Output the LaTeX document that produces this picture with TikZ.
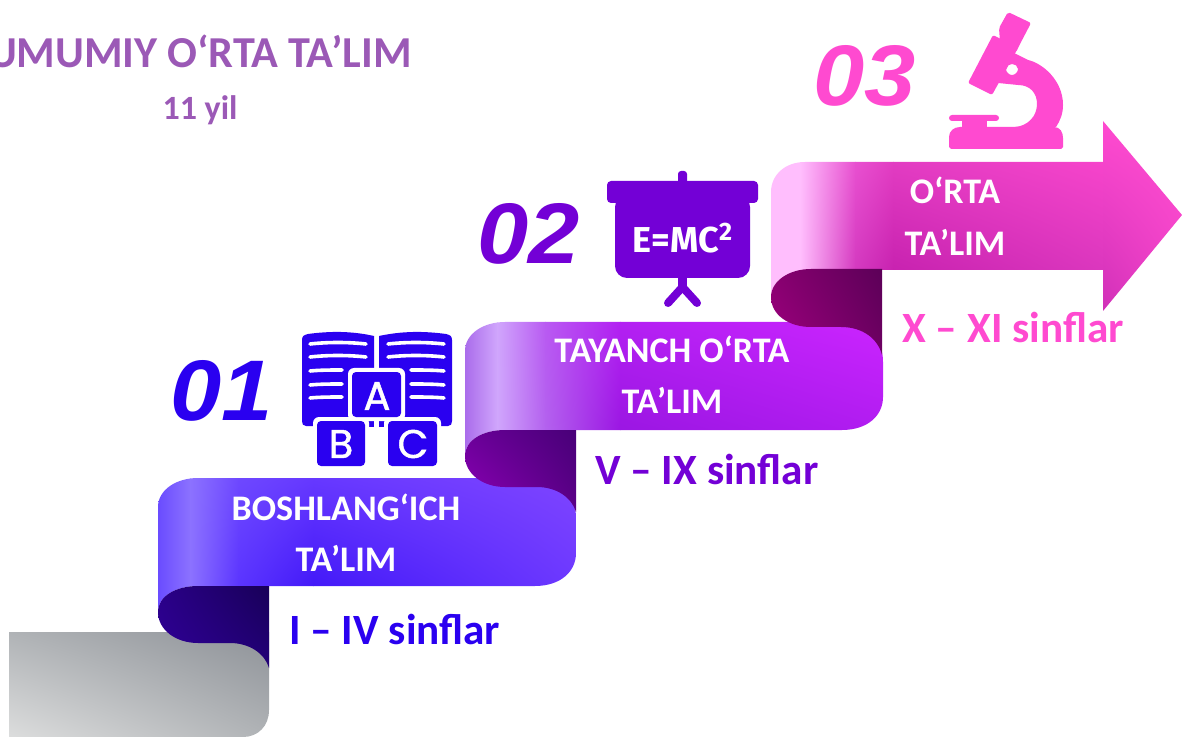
\documentclass[tikz,border=0pt]{standalone}
\usepackage{fontspec}
\setmainfont{Carlito}
\newfontfamily\numfont{Liberation Sans}
\newfontfamily\iconfont{Fira Sans}
\newfontfamily\blockfont[FakeBold=1.2]{Poppins}
\usetikzlibrary{shadings}
\definecolor{titlecol}{HTML}{9B59B6}
\definecolor{bluecol}{HTML}{2A00F0}
\definecolor{violetcol}{HTML}{7300D6}
\definecolor{pinkcol}{HTML}{FF4AD0}
% first ribbon
\definecolor{oneA}{HTML}{6A4CFF}
\definecolor{oneB}{HTML}{8C72FF}
\definecolor{oneC}{HTML}{6E48FF}
\definecolor{oneD}{HTML}{5A34FF}
\definecolor{oneE}{HTML}{6638FF}
\definecolor{oneF}{HTML}{4218F8}
\definecolor{oneG}{HTML}{7E44FF}
\definecolor{oneH}{HTML}{6C38FF}
% second ribbon
\definecolor{twoA}{HTML}{AA6CEB}
\definecolor{twoB}{HTML}{D0A6FC}
\definecolor{twoC}{HTML}{B95AF2}
\definecolor{twoD}{HTML}{B362EE}
\definecolor{twoE}{HTML}{B320F2}
\definecolor{twoF}{HTML}{9A16E2}
\definecolor{twoG}{HTML}{CB24FF}
\definecolor{twoH}{HTML}{B01CF0}
% third ribbon
\definecolor{treA}{HTML}{FFBEFD}
\definecolor{treB}{HTML}{E850D0}
\definecolor{treC}{HTML}{D43AC0}
\definecolor{treD}{HTML}{E23CC2}
\definecolor{treE}{HTML}{C822B0}
\definecolor{treF}{HTML}{F644CB}
\definecolor{treG}{HTML}{DB37BE}
\definecolor{treH}{HTML}{FF4FD0}
\definecolor{treI}{HTML}{D030B8}
\definecolor{treJ}{HTML}{F040C8}
\newcommand{\bandpath}{(158,612) -- (158,507) .. controls (158,490) and (176,478) .. (198,478) -- (536,478) .. controls (560,478) and (576,494) .. (576,518) -- (576,553) .. controls (576,572) and (560,586) .. (535,586) -- (198,586) .. controls (176,586) and (158,596) .. (158,612) -- cycle}
\newcommand{\curlpath}{(158,612) .. controls (158,596) and (176,586) .. (198,586) -- (269,586) -- (269,668) .. controls (265,654) and (250,643) .. (230,643) -- (198,643) .. controls (176,643) and (158,630) .. (158,612) -- cycle}
\begin{document}
\begin{tikzpicture}[
  x=0.5pt, y=-0.5pt,
  title/.style={font=\fontsize{22.1}{22}\selectfont\bfseries, text=titlecol, inner sep=0pt},
  band/.style={font=\fontsize{18}{18}\selectfont\bfseries, text=white, inner sep=0pt},
  grade/.style={font=\fontsize{21.6}{22}\selectfont\bfseries, inner sep=0pt, anchor=west},
  number/.style={font=\numfont\fontsize{43}{43}\selectfont\bfseries\itshape, inner sep=0pt},
  block/.style={font=\blockfont\fontsize{20}{20}\selectfont, text=white, inner sep=0pt},
  pageline/.style={white, line width=1.8pt, line cap=round}
]
\useasboundingbox (0,0) rectangle (1182,737);

% gray start
\definecolor{grayA}{HTML}{B0B3B6}
\definecolor{grayB}{HTML}{8E9298}
\definecolor{grayC}{HTML}{DCDDDD}
\shade[upper left=grayA, upper right=grayB, lower left=grayC, lower right=grayA]
  (9,632) -- (269,632) -- (269,710)
  .. controls (269,726) and (258,737) .. (243,737) -- (9,737) -- cycle;

% first step
\begin{scope}
  \clip \bandpath;
  \shade[upper left=oneA, upper right=oneB, lower left=oneA, lower right=oneB] (158,478) rectangle (190.5,612);
  \foreach \xa/\xb/\colA/\colB/\colC/\colD in {190/238.5/oneB/oneC/oneB/oneD, 238/313.5/oneC/oneE/oneD/oneF, 313/576/oneE/oneG/oneF/oneH}
    \shade[upper left=\colA, upper right=\colB, lower left=\colC, lower right=\colD] (\xa,478) rectangle (\xb,590);
\end{scope}
\definecolor{curlA}{HTML}{2A0088}
\definecolor{curlB}{HTML}{180058}
\definecolor{curlC}{HTML}{300098}
\definecolor{curlD}{HTML}{220078}
\shade[upper left=curlA, upper right=curlB, lower left=curlC, lower right=curlD] \curlpath;

% second step
\begin{scope}[shift={(307,-156)}]
  \clip \bandpath;
  \shade[upper left=twoA, upper right=twoB, lower left=twoA, lower right=twoB] (158,478) rectangle (190.5,612);
  \foreach \xa/\xb/\colA/\colB/\colC/\colD in {190/238.5/twoB/twoC/twoB/twoD, 238/313.5/twoC/twoE/twoD/twoF, 313/576/twoE/twoG/twoF/twoH}
    \shade[upper left=\colA, upper right=\colB, lower left=\colC, lower right=\colD] (\xa,478) rectangle (\xb,590);
\end{scope}
\definecolor{curlE}{HTML}{6A0098}
\definecolor{curlF}{HTML}{480078}
\definecolor{curlG}{HTML}{9000B8}
\definecolor{curlH}{HTML}{5C0088}
\begin{scope}[shift={(307,-156)}]
  \shade[upper left=curlE, upper right=curlF, lower left=curlG, lower right=curlH] \curlpath;
\end{scope}

% third step with the arrow head
\begin{scope}
  \clip (771,297) -- (771,192) .. controls (771,175) and (785,162) .. (805,162) -- (1103,162) -- (1103,121)
    -- (1182,215) -- (1103,311) -- (1103,270) -- (811,270) .. controls (789,270) and (771,280) .. (771,297) -- cycle;
  \fill[treA] (771,162) rectangle (800.5,300);
  \foreach \xa/\xb/\colA/\colB/\colC/\colD in {800/855.5/treA/treB/treA/treC, 855/893.5/treB/treD/treC/treE, 893/1103.5/treD/treF/treE/treG}
    \shade[upper left=\colA, upper right=\colB, lower left=\colC, lower right=\colD] (\xa,162) rectangle (\xb,270);
  \shade[upper left=pinkcol, upper right=treH, lower left=treI, lower right=treJ] (1103,121) rectangle (1182,311);
\end{scope}
\definecolor{curlI}{HTML}{880070}
\definecolor{curlJ}{HTML}{5C0058}
\definecolor{curlK}{HTML}{A00080}
\definecolor{curlL}{HTML}{6E0062}
\shade[upper left=curlI, upper right=curlJ, lower left=curlK, lower right=curlL]
  (771,297) .. controls (771,281) and (789,269) .. (811,269) -- (882,269) -- (882,355)
  .. controls (878,339) and (863,327) .. (841,327) -- (811,327) .. controls (789,327) and (771,315) .. (771,297) -- cycle;

% texts
\node[title] (maintitle) at (200,51) {UMUMIY O‘RTA TA’LIM};
\node[title, font=\fontsize{17}{17}\selectfont\bfseries] (years) at (200,110) {11 yil};
\node[band] (boshlang) at (346,507) {BOSHLANG‘ICH};
\node[band] (talimone) at (346,558) {TA’LIM};
\node[band] (tayanch) at (672,349) {TAYANCH O‘RTA};
\node[band] (talimtwo) at (672,400) {TA’LIM};
\node[band] (orta) at (955,190) {O‘RTA};
\node[band] (talimthree) at (955,242) {TA’LIM};
\node[grade, text=bluecol] (gradeone) at (289,629) {I – IV sinflar};
\node[grade, text=violetcol] (gradetwo) at (595,470) {V – IX sinflar};
\node[grade, text=pinkcol] (gradethree) at (902,328) {X – XI sinflar};
\node[number, text=bluecol] (numone) at (222,391) {\scalebox{1.07}[1]{01}};
\node[number, text=violetcol] (numtwo) at (529,234) {\scalebox{1.07}[1]{02}};
\node[number, text=pinkcol] (numthree) at (865,76) {\scalebox{1.07}[1]{03}};

% book icon
\fill[bluecol] (302,340) .. controls (302,336) and (304,335) .. (308,334) .. controls (330,331) and (352,331) .. (374,336) -- (374,427) -- (306,426) .. controls (303,426) and (302,424) .. (302,421) -- cycle;
\fill[bluecol] (452,340) .. controls (452,336) and (450,335) .. (446,334) .. controls (424,331) and (402,331) .. (379,336) -- (379,427) -- (448,426) .. controls (451,426) and (452,424) .. (452,421) -- cycle;
\foreach \ly in {344,357} {
  \draw[pageline] (310,\ly) .. controls (328,\ly-2) and (348,\ly-2) .. (366,\ly);
  \draw[pageline] (444,\ly) .. controls (426,\ly-2) and (406,\ly-2) .. (388,\ly);
}
\foreach \ly in {371,385,398} {
  \draw[pageline] (310,\ly) .. controls (320,\ly-1) and (332,\ly-1) .. (342,\ly-1);
  \draw[pageline] (444,\ly) .. controls (434,\ly-1) and (422,\ly-1) .. (411,\ly-1);
}
\fill[white, rounded corners=3pt] (348,368) rectangle (405,421);
\fill[white, rounded corners=3pt] (313,417) rectangle (369,470);
\fill[white, rounded corners=3pt] (384,417) rectangle (441,470);
\fill[white] (374,421) rectangle (379,430);
\fill[bluecol, rounded corners=2pt] (352,372) rectangle (401,417);
\fill[bluecol, rounded corners=2pt] (317,421) rectangle (365,466);
\fill[bluecol, rounded corners=2pt] (388,421) rectangle (437,466);
\node[block] (letterA) at (377,396) {A};
\node[block] (letterB) at (341,444) {B};
\node[block] (letterC) at (413,444) {C};

% board icon
\fill[violetcol, rounded corners=1.5pt] (678,185) rectangle (687,171);
\fill[violetcol, rounded corners=2pt] (607,181) rectangle (758,203);
\fill[violetcol, rounded corners=6pt] (615,195) rectangle (750,278);
\fill[violetcol] (678,270) rectangle (687,290);
\draw[violetcol, line width=4pt, line cap=round] (668,303) -- (682.5,287) -- (697,303);
\node[font=\iconfont\fontsize{18}{18}\selectfont\bfseries, text=white, inner sep=0pt] (formula) at (683,238) {E=MC\textsuperscript{2}};

% microscope icon
\fill[pinkcol, rounded corners=1pt] (1008,12) -- (1031,23) -- (1020,44) -- (1016,52) -- (1000,42) -- (999,28) -- cycle;
\fill[pinkcol, rounded corners=1pt] (993,35) -- (1018,48) -- (992,95) -- (968,83) -- cycle;
\fill[pinkcol, even odd rule] (1012,52) -- (1028,60) .. controls (1042,63) and (1063,80) .. (1063,105) .. controls (1063,114) and (1060,121) .. (1056,127)
  -- (1015,127) .. controls (1028,126) and (1037,116) .. (1037,104) .. controls (1037,93) and (1030,85) .. (1018,85) -- (998,83) -- cycle
  (1018,69) .. controls (1018,66) and (1015,64) .. (1012,64) .. controls (1009,64) and (1006,66) .. (1006,69) .. controls (1006,72) and (1009,75) .. (1012,75) .. controls (1015,75) and (1018,72) .. (1018,69) -- cycle;
\fill[pinkcol, rounded corners=1.5pt] (949,115) rectangle (999,121);
\fill[pinkcol] (962,120) rectangle (987,128);
\fill[pinkcol] (951,149) -- (949,147) -- (949,137) .. controls (949,131) and (954,127) .. (960,127) -- (1054,127) .. controls (1060,127) and (1063,132) .. (1063,138) -- (1063,147) -- (1061,149) -- cycle;
\end{tikzpicture}
\end{document}
